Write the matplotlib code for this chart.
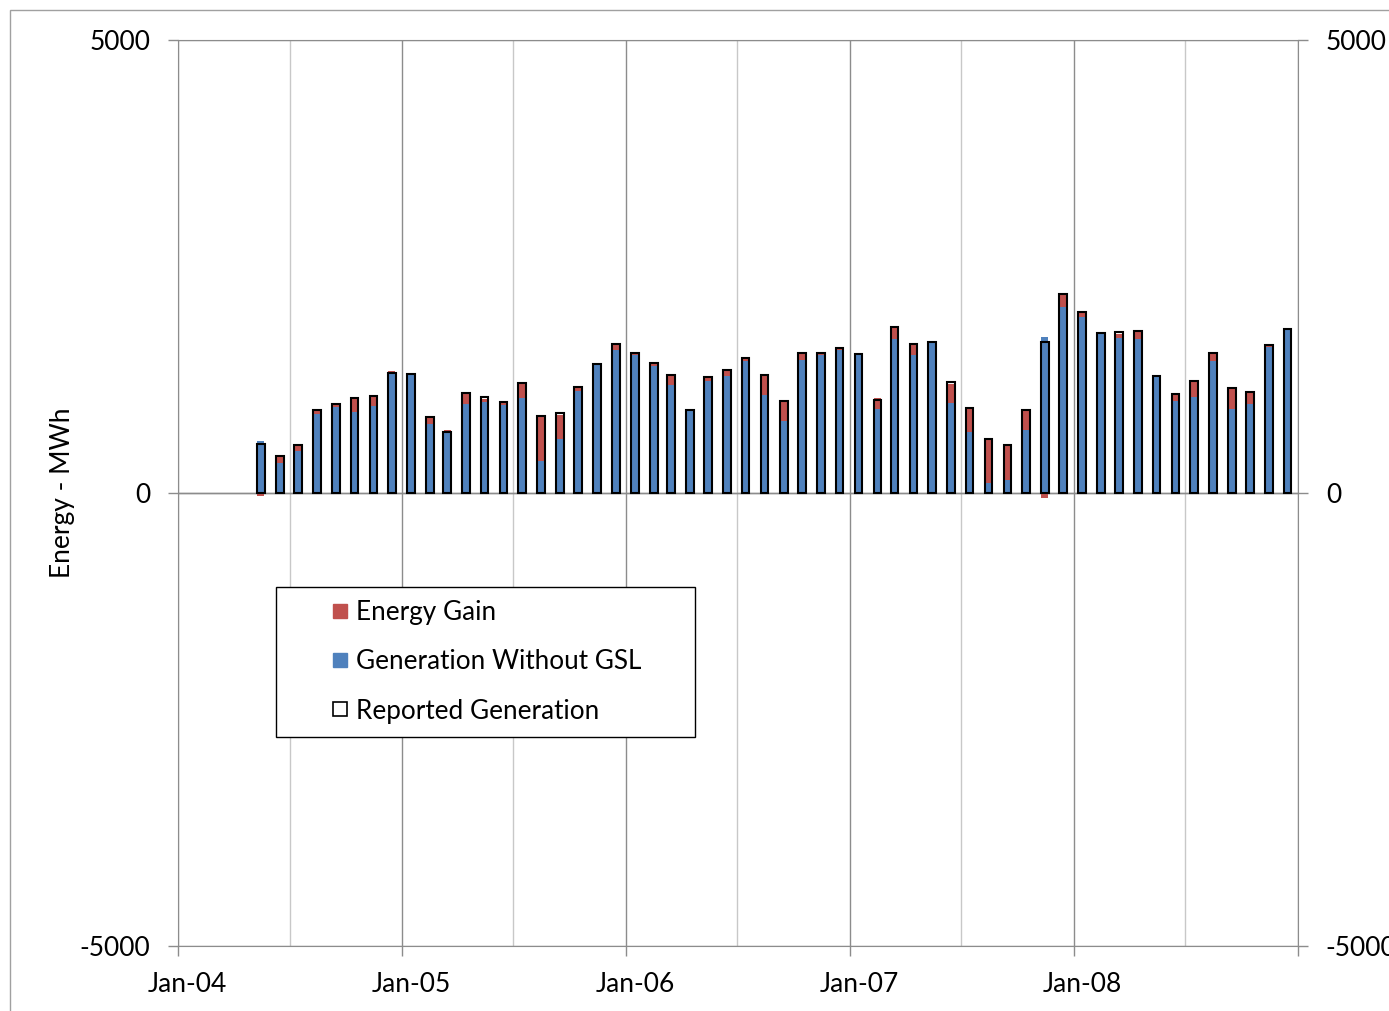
import matplotlib
matplotlib.use("Agg")
import matplotlib.pyplot as plt
import matplotlib.dates as mdates
import matplotlib.transforms as mtransforms
from matplotlib.lines import Line2D
from matplotlib.patches import Rectangle
import numpy as np
import pandas as pd

plt.rcParams['font.family'] = ['Lato', 'DejaVu Sans']

# monthly values, May 2004 .. Dec 2008 (bars sit mid-month)
months = pd.date_range("2004-05-01", "2008-12-01", freq="MS") + pd.Timedelta(days=14)

gen_without_gsl = [
    574, 328, 464, 869, 953, 898, 964, 1321,
    1314, 758, 662, 979, 1005, 968, 1045, 353, 600, 1130, 1424, 1575,
    1523, 1398, 1196, 920, 1240, 1292, 1457, 1078, 795, 1468, 1523, 1579,
    1519, 923, 1700, 1519, 1667, 994, 669, 110, 147, 691, 1726, 2049,
    1943, 1766, 1711, 1700, 1288, 1012, 1056, 1461, 931, 979, 1615, 1811,
]
energy_gain = [
    -36, 77, 63, 51, 32, 154, 107, 29,
    10, 77, 37, 121, 29, 37, 166, 501, 257, 37, 5, 66,
    23, 37, 107, 5, 44, 66, 33, 225, 221, 78, 23, 22,
    16, 129, 133, 126, 0, 205, 265, 486, 383, 229, -60, 148,
    51, 15, 44, 92, 5, 81, 177, 81, 232, 140, 22, 5,
]
reported_gen = [
    538, 405, 527, 920, 985, 1052, 1071, 1321,
    1314, 835, 673, 1100, 1056, 1005, 1211, 854, 883, 1167, 1424, 1641,
    1546, 1435, 1303, 920, 1284, 1358, 1490, 1303, 1016, 1546, 1546, 1601,
    1535, 1030, 1833, 1645, 1667, 1221, 934, 596, 530, 920, 1670, 2197,
    1994, 1766, 1777, 1792, 1288, 1093, 1233, 1542, 1163, 1119, 1637, 1811,
]

year_ticks = pd.to_datetime(["2004-01-01", "2005-01-01", "2006-01-01",
                             "2007-01-01", "2008-01-01", "2009-01-01"])
year_labels = ["Jan-04", "Jan-05", "Jan-06", "Jan-07", "Jan-08", ""]
mid_ticks = pd.to_datetime(["2004-07-01", "2005-07-01", "2006-07-01",
                            "2007-07-01", "2008-07-01"])
y_ticks = [-5000, 0, 5000]
legend_labels = ["Energy Gain", "Generation Without GSL", "Reported Generation"]

BLUE = "#4F81BD"
RED = "#C0504D"
GRID = "#8C8C8C"
MINOR = "#C8C8C8"

W, H = 1389, 1011
fig = plt.figure(figsize=(W / 100, H / 100), dpi=100)
ax = fig.add_axes([178 / W, 1 - 946 / H, 1120 / W, 906 / H])
ax2 = ax.twinx()

x = mdates.date2num(months)
wog = np.array(gen_without_gsl)
gain = np.array(energy_gain)
bottoms = np.where(gain >= 0, wog, 0)

ax.bar(x, wog, width=11.5, color=BLUE, zorder=2)
ax.bar(x, gain, bottom=bottoms, width=11.5, color=RED, zorder=2)
ax2.bar(x, reported_gen, width=12.5, facecolor="none", edgecolor="black", linewidth=1.5)

ax.set_xlim(mdates.date2num(year_ticks[0]), mdates.date2num(year_ticks[-1]))
ax.set_ylim(-5000, 5000)
ax2.set_ylim(-5000, 5000)

ax.set_xticks(mdates.date2num(year_ticks))
ax.set_xticklabels(year_labels)
ax.set_xticks(mdates.date2num(mid_ticks), minor=True)
ax.set_yticks(y_ticks)
ax.set_yticklabels([str(v) for v in y_ticks])
ax2.set_yticks(y_ticks)
ax2.set_yticklabels([str(v) for v in y_ticks])

ax.set_axisbelow(True)
ax.grid(which="major", axis="x", color=GRID, linewidth=1.0)
ax.grid(which="minor", axis="x", color=MINOR, linewidth=1.0)
ax.grid(which="major", axis="y", color=GRID, linewidth=1.0)
ax.axhline(0, color=GRID, linewidth=1.0, zorder=1)

ax.tick_params(axis="x", which="major", direction="out", length=7, width=1,
               color=GRID, labelsize=19, pad=12)
ax.tick_params(axis="x", which="minor", length=0)
ax.tick_params(axis="y", direction="out", length=7, width=1, color=GRID,
               labelsize=19, pad=13)
ax2.tick_params(axis="y", direction="out", length=7, width=1, color=GRID,
                labelsize=19, pad=13)

for s in ["left", "bottom", "top"]:
    ax.spines[s].set_color(GRID)
ax.spines["right"].set_visible(False)
for s in ["left", "bottom", "top"]:
    ax2.spines[s].set_visible(False)
ax2.spines["right"].set_color(GRID)

offset = mtransforms.ScaledTranslation(9 / 100, 0, fig.dpi_scale_trans)
for lab in ax.get_xticklabels():
    lab.set_transform(lab.get_transform() + offset)

ax.set_ylabel("Energy - MWh", fontsize=19)
ax.yaxis.set_label_coords(-0.092, 0.5)

handles = [
    Line2D([], [], marker="s", ls="none", markersize=10, markerfacecolor=RED, markeredgecolor=RED),
    Line2D([], [], marker="s", ls="none", markersize=10, markerfacecolor=BLUE, markeredgecolor=BLUE),
    Line2D([], [], marker="s", ls="none", markersize=10, markerfacecolor="white",
           markeredgecolor="black", markeredgewidth=1.2),
]
leg = ax2.legend(handles, legend_labels, loc="upper left",
                 bbox_to_anchor=(276 / W, 1 - 737 / H, 419 / W, 150 / H),
                 bbox_transform=fig.transFigure, mode="expand", borderaxespad=0,
                 fontsize=18.8, handlelength=3.9, handletextpad=-1.32, borderpad=0.5,
                 labelspacing=0.93, fancybox=False, framealpha=1, edgecolor="black")
leg.get_frame().set_linewidth(1.0)

# outer chart-area border
fig.patches.append(Rectangle((10 / W, -0.05), 1.2, 0.05 + 1 - 10 / H,
                             transform=fig.transFigure, fill=False,
                             edgecolor="#A0A0A0", linewidth=1.0))

fig.savefig("out.png", dpi=100)
